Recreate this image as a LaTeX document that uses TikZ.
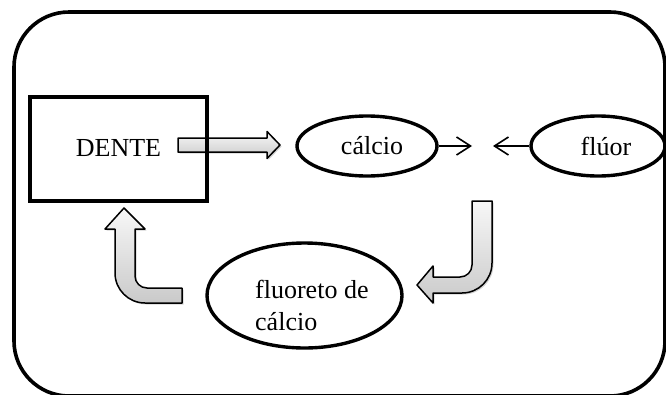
\documentclass[tikz,border=0pt]{standalone}
\usepackage{fontspec}
\setmainfont{Liberation Serif}
\usetikzlibrary{shapes.geometric,arrows.meta,shadows}
\begin{document}
\begin{tikzpicture}[x=1pt,y=-1pt,
  lbl/.style={font=\fontsize{26}{32}\selectfont, inner sep=0pt},
  oval/.style={draw, ellipse, line width=3.4pt, inner sep=0pt, font=\fontsize{26}{32}\selectfont},
  blockarrow/.style={draw, line width=1.5pt, line join=round, top color=gray!6, bottom color=gray!42,
     drop shadow={opacity=0.35, shadow xshift=1.5pt, shadow yshift=-1.5pt, fill=gray}},
  thin/.style={line width=1.6pt, -{Straight Barb[length=14pt,width=18pt,line width=1.6pt]}}
]
\useasboundingbox (0,0) rectangle (666,394);
% outer frame
\draw[line width=3.6pt, rounded corners=55pt] (14,12) rectangle (665,396);
% block arrows
\path[blockarrow] (178,138) -- (267,138) -- (267,131.5) -- (280,145) -- (267,158.5) -- (267,152) -- (178,152) -- cycle;
\path[blockarrow] (472,201) -- (492,201) -- (492,263) arc[start angle=0,end angle=90,radius=30]
  -- (433,293) -- (433,303) -- (417,285) -- (433,266) -- (433,277) -- (460,277)
  arc[start angle=90,end angle=0,radius=12] -- cycle;
\path[blockarrow] (124,208) -- (145,229) -- (135,229) -- (135,276)
  arc[start angle=180,end angle=90,radius=12] -- (182,288) -- (182,303) -- (145,303)
  arc[start angle=90,end angle=180,radius=30] -- (115,229) -- (105,229) -- cycle;
% DENTE box
\node[draw, line width=3.2pt, minimum width=177pt, minimum height=104pt, inner sep=0pt] (dente) at (118.5,149) {};
\node[lbl] (denteT) at (118.5,148) {DENTE};
% ellipses
\node[oval, minimum width=140pt, minimum height=60pt] (calcio) at (367,146) {\hspace*{10pt}cálcio};
\node[oval, minimum width=134pt, minimum height=60pt] (fluor) at (598,146) {\hspace*{16pt}flúor};
\node[oval, minimum width=195pt, minimum height=105pt] (fluoreto) at (304.5,295.5) {};
\node[lbl, align=left, anchor=west] (fluoretoT) at (255,305) {fluoreto de\\cálcio};
% thin arrows
\coordinate (m1) at (472,146);
\coordinate (m2) at (493,146);
\draw[thin] (calcio.east) -- (m1);
\draw[thin] (fluor.west) -- (m2);
\end{tikzpicture}
\end{document}
